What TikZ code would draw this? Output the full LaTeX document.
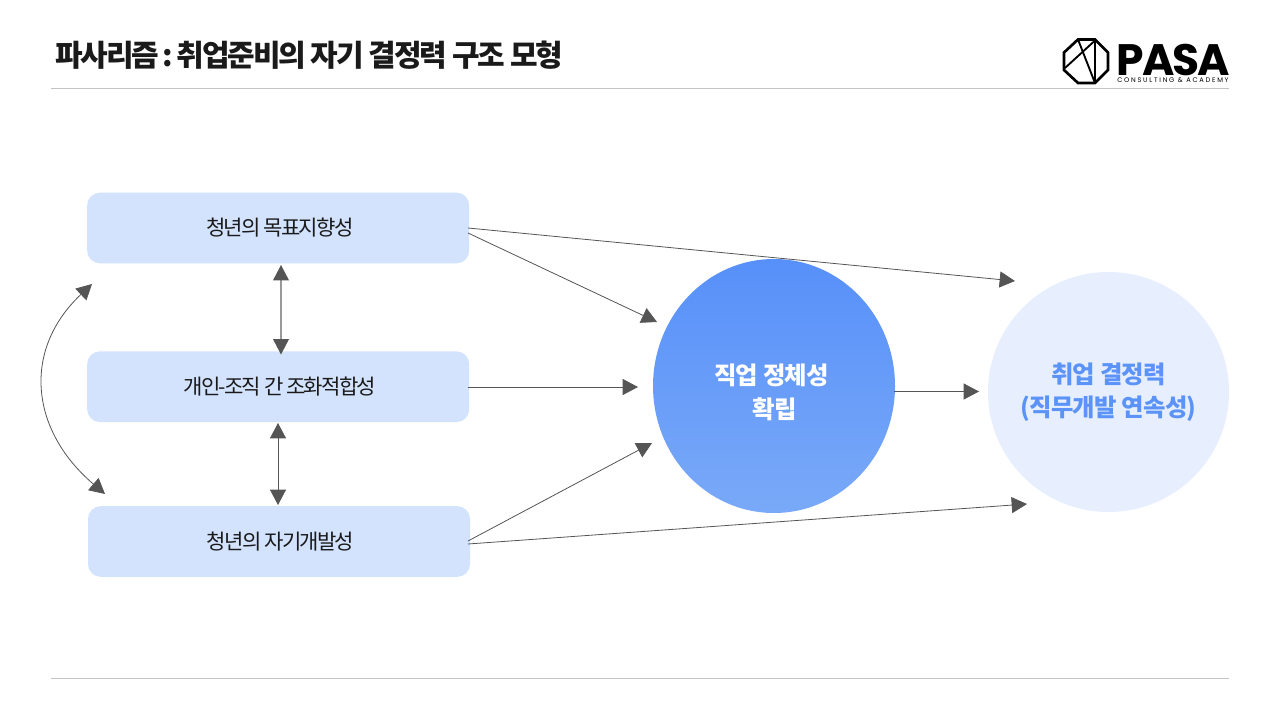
\documentclass[tikz,border=0pt]{standalone}
\usepackage{fontspec}
\usetikzlibrary{arrows.meta,calc}
\newfontfamily\cjk[LetterSpace=-8.5]{Noto Sans CJK KR}
\newfontfamily\cjkc[LetterSpace=-3]{Noto Sans CJK KR}
\newfontfamily\cjktitle[LetterSpace=-7]{Noto Sans CJK KR}
\newfontfamily\pop[LetterSpace=-4]{Poppins}
\newfontfamily\popsub[LetterSpace=26]{Poppins}
\definecolor{boxfill}{HTML}{D3E3FD}
\definecolor{circtop}{HTML}{5790F9}
\definecolor{circbot}{HTML}{79A9F8}
\definecolor{circlight}{HTML}{E7EFFE}
\definecolor{circtext}{HTML}{5B93F8}
\definecolor{rulec}{HTML}{C4C4C4}
\definecolor{arrowc}{HTML}{555555}
\definecolor{titlec}{HTML}{1A1A1A}
\newcommand\boxtxt[1]{\kern2.4pt\raisebox{-1.7pt}{#1}}
\tikzset{
  x=0.75pt,y=-0.75pt,
  boxnode/.style={draw=none,fill=boxfill,rounded corners=9.5pt,minimum width=286.5pt,minimum height=53pt,inner sep=0pt,
     font=\cjk\fontsize{15.8pt}{18pt}\selectfont,text=titlec},
  conn/.style={draw=arrowc,line width=0.6pt,-{Triangle[length=11.5pt,width=12pt,fill=arrowc]}},
  dconn/.style={draw=arrowc,line width=0.6pt,{Triangle[length=11.5pt,width=12pt,fill=arrowc]}-{Triangle[length=11.5pt,width=12pt,fill=arrowc]}},
  dconnb/.style={draw=arrowc!60,line width=1pt,{Triangle[length=11.5pt,width=12pt,color=arrowc,fill=arrowc,line width=0pt]}-{Triangle[length=11.5pt,width=12pt,color=arrowc,fill=arrowc,line width=0pt]}},
  circlab/.style={font=\cjkc\bfseries\fontsize{18.3pt}{25pt}\selectfont,align=center},
}
\begin{document}
\begin{tikzpicture}
\useasboundingbox (0,0) rectangle (1280,720);
\fill[white] (0,0) rectangle (1280,720);
% header
\node[anchor=west,inner sep=0pt,text=titlec,font=\cjktitle\bfseries\fontsize{22.5pt}{26pt}\selectfont] (title) at (55,55) {파사리즘\kern2.5pt:\kern2.5pt취업준비의 자기 결정력 구조 모형};
\coordinate (rt1) at (51,88.5); \coordinate (rt2) at (1229,88.5);
\coordinate (rb1) at (51,678.5); \coordinate (rb2) at (1229,678.5);
\draw[rulec,line width=0.75pt] (rt1) -- (rt2);
\draw[rulec,line width=0.75pt] (rb1) -- (rb2);
% logo
\draw[black,line width=2pt,line join=miter] (1078,39.5)--(1095,39.5)--(1108,52.5)--(1108,70)--(1095,83)--(1078,83)--(1064,70)--(1064,52.5)--cycle;
\draw[black,line width=1.4pt] (1078,39.5)--(1095,83);
\draw[black,line width=1.4pt] (1095,39.5)--(1095,83);
\draw[black,line width=1.4pt] (1095,40.5)--(1065,68);
\node[anchor=west,inner sep=0pt,font=\pop\bfseries\fontsize{33pt}{34pt}\selectfont] (pasa) at (1116,59.5) {PASA};
\node[anchor=west,inner sep=0pt,font=\popsub\fontsize{5pt}{5.5pt}\selectfont] (sub) at (1117,80.5) {CONSULTING \& ACADEMY};
% boxes
\node[boxnode] (a) at (278.2,228) {\boxtxt{청년의 목표지향성}};
\node[boxnode] (b) at (278.2,386.7) {\boxtxt{개인-조직 간 조화적합성}};
\node[boxnode] (c) at (279,541.5) {\boxtxt{청년의 자기개발성}};
% circles
\path[top color=circtop,bottom color=circbot] (774,386) ellipse [x radius=121,y radius=127];
\node[circlab,text=white] (d) at (773,392.5) {직업 정체성\kern2.2pt\\\kern3pt확립};
\fill[circlight] (1108.5,392) ellipse [x radius=120.5,y radius=120];
\node[circlab,text=circtext] (e) at (1108.5,392.5) {취업 결정력\\(직무개발 연속성)};
% connector ends
\coordinate (a1) at (468,228); \coordinate (a2) at (468,233);
\coordinate (c1) at (468,541); \coordinate (c2) at (468,544);
\coordinate (t1) at (1015,281); \coordinate (t2) at (657,322);
\coordinate (t3) at (638,387); \coordinate (t4) at (652,443);
\coordinate (t5) at (1027,504); \coordinate (t6) at (979,391.5); \coordinate (s6) at (894,391.5);
\coordinate (b0) at (468,387);
\coordinate (u1) at (281,265); \coordinate (u2) at (281,354.5);
\coordinate (v1) at (278,423); \coordinate (v2) at (278,505);
\coordinate (w1) at (92,284); \coordinate (w2) at (105,494);
\draw[conn] (a1) -- (t1);
\draw[conn] (a2) -- (t2);
\draw[conn] (b0) -- (t3);
\draw[conn] (c1) -- (t4);
\draw[conn] (c2) -- (t5);
\draw[conn] (s6) -- (t6);
\draw[dconnb] (u1) -- (u2);
\draw[dconn] (v1) -- (v2);
\draw[dconn] (w1) .. controls (22,350) and (30,430) .. (w2);
\end{tikzpicture}
\end{document}
